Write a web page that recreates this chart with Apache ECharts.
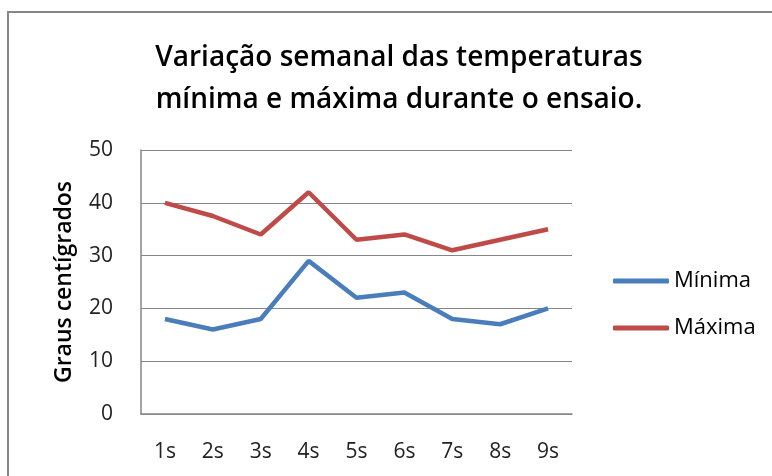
<!DOCTYPE html>
<html>
<head>
<meta charset="utf-8">
<script src="https://cdn.jsdelivr.net/npm/echarts@6/dist/echarts.min.js"></script>
<style>
  html, body { margin: 0; padding: 0; background: #fff; }
  #chart { width: 772px; height: 476px; }
</style>
</head>
<body>
<div id="chart"></div>
<script>
const categories = ['1s', '2s', '3s', '4s', '5s', '6s', '7s', '8s', '9s'];
const minima = [18, 16, 18, 29, 22, 23, 18, 17, 20];
const maxima = [40, 37.5, 34, 42, 33, 34, 31, 33, 35];
const yTicks = { min: 0, max: 50, interval: 10 };

const chart = echarts.init(document.getElementById('chart'));
const font = '"Open Sans", "Noto Sans", sans-serif';

chart.setOption({
    animation: false,
    graphic: [
        {
            type: 'rect',
            shape: { x: 8, y: 12, width: 800, height: 500 },
            style: { fill: 'none', stroke: '#868686', lineWidth: 2 }
        }
    ],
    title: {
        text: 'Variação semanal das temperaturas\nmínima e máxima durante o ensaio.',
        left: 394,
        textAlign: 'center',
        top: 32,
        textStyle: {
            fontFamily: font,
            fontSize: 28,
            fontWeight: 600,
            color: '#000',
            lineHeight: 42
        }
    },
    grid: { left: 141, top: 150, width: 431, height: 264, containLabel: false },
    legend: {
        orient: 'vertical',
        left: 608,
        top: 265,
        itemWidth: 56,
        itemHeight: 5,
        itemGap: 25,
        textStyle: { fontFamily: font, fontSize: 22, color: '#000' },
        data: [
            { name: 'Mínima', icon: 'roundRect' },
            { name: 'Máxima', icon: 'roundRect' }
        ]
    },
    xAxis: {
        type: 'category',
        data: categories,
        boundaryGap: true,
        axisLine: { lineStyle: { color: '#868686', width: 1.5 } },
        axisTick: { show: false },
        axisLabel: { fontFamily: font, fontSize: 21, color: '#222', margin: 28 }
    },
    yAxis: {
        type: 'value',
        min: yTicks.min,
        max: yTicks.max,
        interval: yTicks.interval,
        name: 'Graus centígrados',
        nameLocation: 'middle',
        nameRotate: 90,
        nameGap: 65,
        nameTextStyle: { fontFamily: font, fontSize: 23, fontWeight: 600, color: '#000' },
        axisLine: { show: true, lineStyle: { color: '#868686', width: 1.5 } },
        axisTick: { show: false },
        axisLabel: { fontFamily: font, fontSize: 21, color: '#222', margin: 28 },
        splitLine: { lineStyle: { color: '#868686', width: 1.2 } }
    },
    series: [
        {
            name: 'Mínima',
            type: 'line',
            data: minima,
            symbol: 'none',
            color: '#4A7EBB',
            lineStyle: { width: 4.5, color: '#4A7EBB' }
        },
        {
            name: 'Máxima',
            type: 'line',
            data: maxima,
            symbol: 'none',
            color: '#BE4B48',
            lineStyle: { width: 4.5, color: '#BE4B48' }
        }
    ]
});
</script>
</body>
</html>
